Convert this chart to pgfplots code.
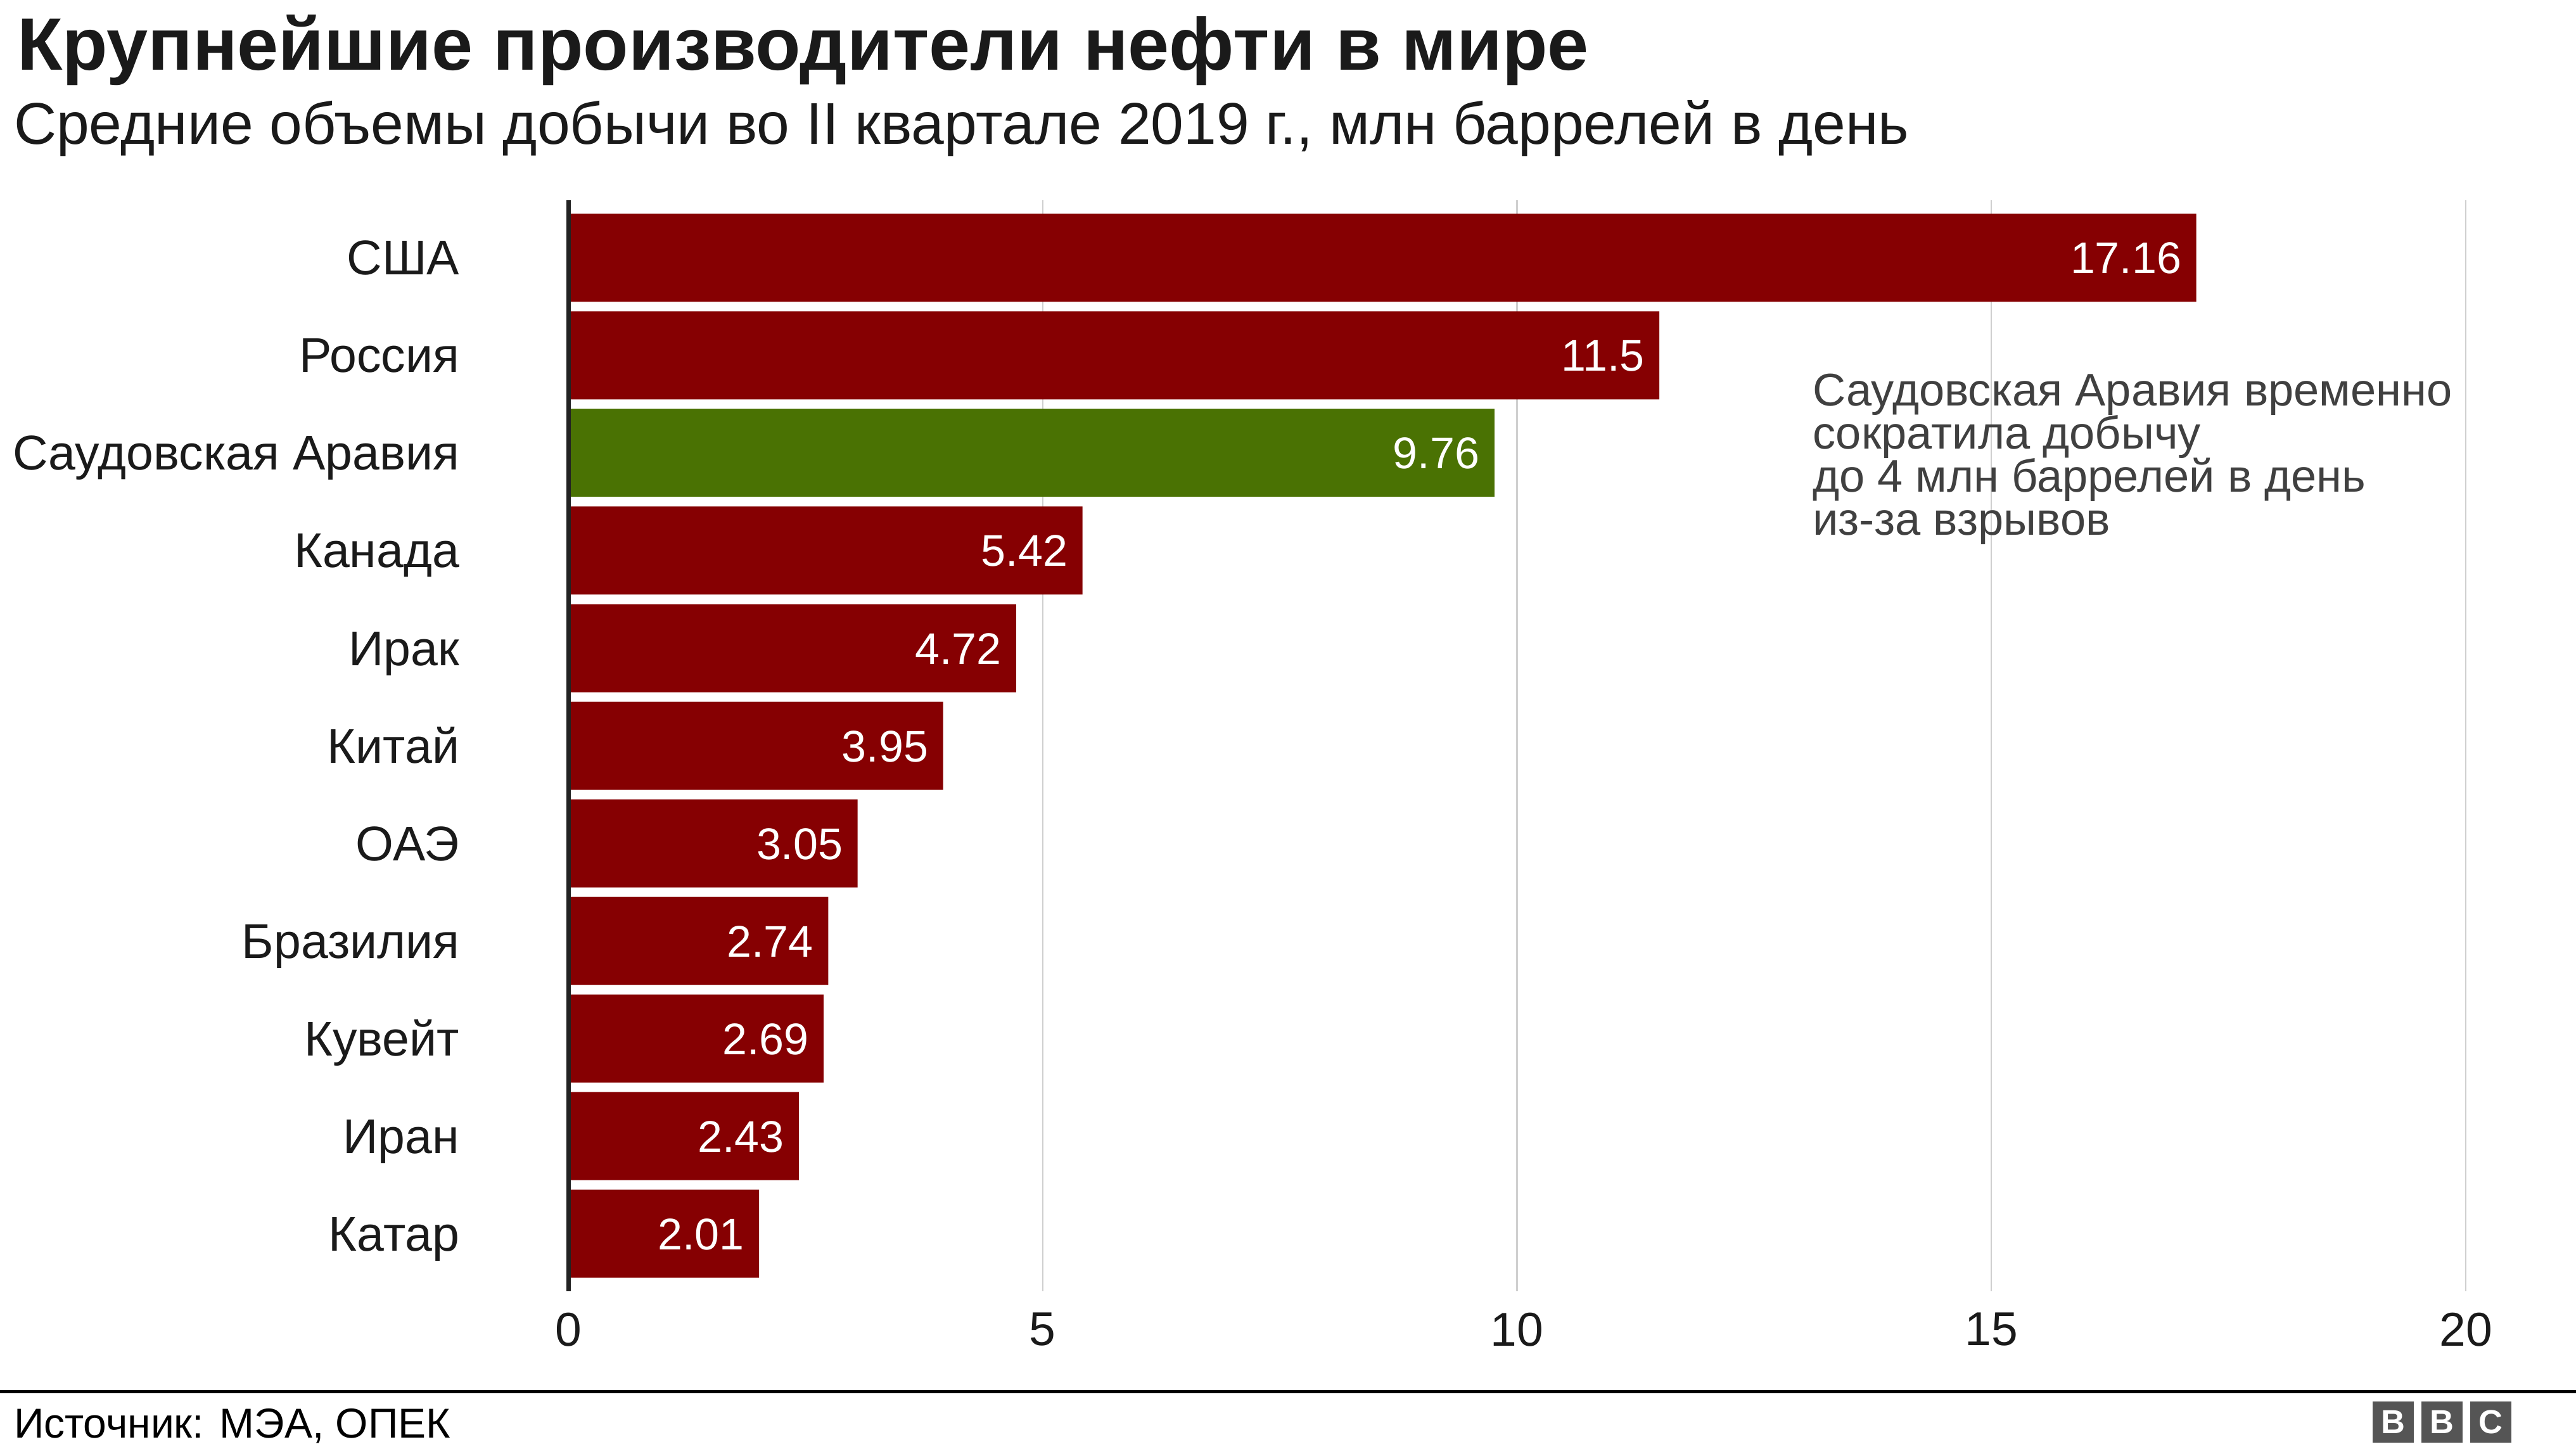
\documentclass[border=0pt]{standalone}
\usepackage{pgfplots}
\pgfplotsset{compat=1.18}
\usepackage{pgfplotstable}
\usepackage{fontspec}
\setmainfont{Liberation Sans}
\definecolor{barred}{RGB}{134,0,2}
\definecolor{bargreen}{RGB}{74,114,3}
\definecolor{annot}{RGB}{64,64,64}
\definecolor{gridc}{RGB}{207,207,207}
\definecolor{axisc}{RGB}{34,34,34}
\definecolor{logo}{RGB}{85,85,85}
\definecolor{titlec}{RGB}{26,26,26}

\pgfplotstableread{
y v
0 17.16
1 11.5
3 5.42
4 4.72
5 3.95
6 3.05
7 2.74
8 2.69
9 2.43
10 2.01
}\redbars
\pgfplotstableread{
y v
2 9.76
}\greenbars

\begin{document}
\begin{tikzpicture}
\path[use as bounding box] (0,0) rectangle (813.2pt,-457.4pt);
% titles
\node[anchor=base west, inner sep=0pt, text=titlec, font=\fontsize{23.4}{28}\selectfont\bfseries] at (5.2pt,-22.2pt) {Крупнейшие производители нефти в мире};
\node[anchor=base west, inner sep=0pt, text=titlec, font=\fontsize{18.6}{22}\selectfont] at (4.2pt,-45.6pt) {Средние объемы добычи во II квартале 2019 г., млн баррелей в день};
\begin{axis}[
  at={(179.4pt,-407.6pt)}, anchor=south west,
  width=599pt, height=344.4pt, scale only axis,
  xmin=0, xmax=20, ymin=-0.59, ymax=10.59, y dir=reverse,
  xbar, bar width=27.8pt, bar shift=0pt,
  clip=false,
  axis line style={draw=none},
  major tick length=0pt,
  xtick={0,5,10,15,20},
  xmajorgrids, grid style={draw=gridc, line width=0.45pt},
  ytick={0,1,2,3,4,5,6,7,8,9,10},
  yticklabels={США,Россия,Саудовская Аравия,Канада,Ирак,Китай,ОАЭ,Бразилия,Кувейт,Иран,Катар},
  /pgf/number format/assume math mode=true,
  tick label style={text=titlec},
  y tick label style={inner sep=0pt, anchor=base east, xshift=-34.2pt, yshift=-5.4pt, font=\fontsize{15.4}{18}\selectfont},
  x tick label style={inner sep=0pt, anchor=north, yshift=-6.6pt, font=\fontsize{15}{18}\selectfont},
  nodes near coords,
  point meta=x,
  every node near coord/.append style={anchor=base east, text=white, inner sep=0pt, xshift=-4.5pt, yshift=-5.0pt, font=\fontsize{14}{17}\selectfont},
]
\addplot[fill=barred, draw=none] table[x=v, y=y] {\redbars};
\addplot[fill=bargreen, draw=none] table[x=v, y=y] {\greenbars};
\draw[line width=1.4pt, axisc] (axis cs:0,-0.59) -- (axis cs:0,10.59);
\end{axis}
% annotation
\foreach \t [count=\k from 0] in {Саудовская Аравия временно, сократила добычу, до 4 млн баррелей в день, из-за взрывов}{
  \node[anchor=base west, inner sep=0pt, text=annot, font=\fontsize{14.45}{17}\selectfont] at (572pt,-128pt-\k*13.6pt) {\t};
}
% footer
\draw[line width=1pt, black] (0,-439.2pt) -- (813.2pt,-439.2pt);
\node[anchor=base west, inner sep=0pt, text=black, font=\fontsize{13.2}{16}\selectfont] at (4.2pt,-453.8pt) {Источник: МЭА, ОПЕК};
\foreach \i/\l in {0/B,1/B,2/C}{
  \fill[logo] (749pt+\i*15.4pt,-442.4pt) rectangle ++(13pt,-13pt);
  \node[text=white, inner sep=0pt, font=\fontsize{10.5}{12}\selectfont\bfseries] at (755.5pt+\i*15.4pt,-448.9pt) {\l};
}
\end{tikzpicture}
\end{document}
